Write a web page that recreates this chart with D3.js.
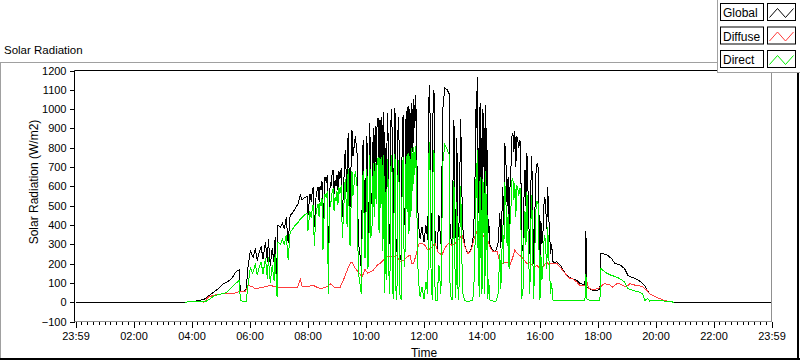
<!DOCTYPE html>
<html><head><meta charset="utf-8">
<script src="https://cdn.jsdelivr.net/npm/d3@7"></script>
<style>
html,body{margin:0;padding:0;background:#fff;}
svg{display:block;font-family:"Liberation Sans",Arial,sans-serif;}
</style></head><body>
<svg id="chart" width="800" height="361"></svg>
<script>
const chartTitle = "Solar Radiation";
const yAxisTitle = "Solar Radiation (W/m2)";
const xAxisTitle = "Time";
const seriesNames = ["Global", "Diffuse", "Direct"];
const seriesColors = ["#000000", "#ff3c3c", "#00ee00"];
const xTickMinutes = [-1,119,239,359,479,599,719,839,959,1079,1199,1319,1439];
const xTickLabels = ["23:59","02:00","04:00","06:00","08:00","10:00","12:00","14:00","16:00","18:00","20:00","22:00","23:59"];
const yTicks = [-100,0,100,200,300,400,500,600,700,800,900,1000,1100,1200];

// minutes after midnight; Global and Direct share these sample times
const globalTimes = [
-1,226,233,247,257,268,278,284,290,299,
305,311,317,323,330,334,338,340,346,352,
356,361,365,367,371,375,379,383,387,392,
396,398,402,406,410,412,416,418,423,427,
431,435,439,443,447,454,460,464,468,472,
478,480,484,487,489,491,493,495,497,501,
503,505,507,509,511,513,515,518,520,522,
524,526,528,530,532,534,536,538,540,542,
544,546,549,551,557,561,563,567,571,573,
578,582,584,588,590,594,598,602,604,606,
608,610,613,615,617,619,621,623,625,627,
629,631,633,635,637,639,641,642,644,646,
648,650,652,654,656,658,660,662,664,666,
668,670,673,675,677,679,681,683,685,687,
689,691,693,695,697,699,701,703,706,708,
712,716,720,724,728,730,732,734,737,739,
741,743,747,751,755,759,763,768,772,774,
778,782,784,786,788,790,792,796,799,801,
805,809,813,817,821,825,827,829,830,832,
833,834,836,837,838,840,841,842,844,845,
846,848,849,850,852,854,856,860,865,869,
873,877,879,883,885,887,889,892,894,896,
898,900,902,904,906,908,910,912,914,916,
918,920,922,925,927,929,931,933,935,937,
939,941,943,945,947,949,951,954,956,958,
960,962,964,966,968,970,972,974,976,978,
980,982,984,987,991,995,999,1003,1007,1013,
1022,1028,1036,1042,1049,1053,1055,1057,1063,1069,
1077,1084,1086,1094,1100,1108,1115,1125,1135,1142,
1152,1162,1172,1177,1183,1187,1197,1208,1218,1228,
1237,1439];
const globalValues = [
0,0,2,5,10,18,40,50,61,80,
96,102,112,125,155,163,168,55,53,65,
183,270,240,235,278,215,260,287,225,313,
210,325,190,280,200,339,100,400,390,410,
380,440,305,450,460,486,512,555,530,540,
547,450,560,520,581,598,390,470,560,598,
520,600,580,625,357,500,650,620,659,139,
480,620,600,670,685,560,633,600,660,580,
680,640,694,443,789,560,876,495,893,755,
859,760,321,235,183,841,408,859,321,450,
928,500,581,900,620,910,700,928,954,560,
945,700,960,480,985,290,800,350,980,850,
300,420,1000,900,240,700,1006,300,260,880,
960,250,215,900,970,400,500,988,700,1014,
600,1000,650,1032,780,1050,900,1075,650,420,
330,390,310,400,320,1050,1127,500,290,1100,
1080,300,280,450,300,1000,1111,1100,1080,350,
300,945,500,330,850,400,340,950,500,360,
290,260,255,275,310,500,1000,900,1164,600,
800,400,1030,600,850,400,700,1000,700,900,
380,1023,600,900,335,430,300,275,263,268,
300,460,280,598,400,825,780,500,650,370,
600,700,859,876,780,885,700,860,841,800,
835,832,253,300,550,685,500,773,600,400,
250,600,755,450,200,400,650,720,700,450,
190,420,300,350,500,547,480,380,598,450,
350,250,300,209,205,210,200,190,170,148,
127,120,113,99,92,87,370,80,70,61,
61,65,252,249,243,226,200,195,174,139,
127,117,99,85,56,44,30,18,9,3,
0,0];
const directValues = [
null,0,2,3,3,3,18,30,36,42,
44,50,64,79,96,105,113,9,5,5,
90,183,150,160,200,140,180,210,145,230,
120,235,100,190,110,250,25,310,300,325,
295,350,220,360,375,400,415,430,440,450,
460,370,470,435,490,505,290,385,470,510,
440,520,500,540,270,420,560,540,575,45,
390,520,520,575,590,470,545,525,575,505,
595,560,605,330,640,390,690,290,680,550,
680,590,160,90,45,680,230,690,170,290,
760,330,410,720,440,720,510,730,750,360,
745,490,750,265,760,50,570,115,740,610,
40,180,760,665,15,465,765,60,12,645,
735,40,10,690,750,180,270,755,465,775,
355,755,440,800,575,805,660,810,380,130,
25,80,15,105,45,760,830,210,10,790,
770,10,10,190,45,720,815,790,765,45,
10,630,190,20,520,80,12,600,150,30,
8,5,5,8,10,160,640,540,790,220,
420,25,650,230,480,45,345,640,360,565,
45,680,270,560,15,120,12,8,5,6,
35,250,70,400,200,620,570,290,455,170,
410,490,630,640,530,615,440,605,590,550,
590,590,15,70,340,470,295,570,395,195,
40,400,555,260,15,215,465,525,510,265,
12,245,115,165,310,350,275,170,390,250,
150,45,100,12,8,10,10,10,8,8,
8,8,8,9,9,10,145,18,9,9,
9,9,174,157,148,138,134,122,105,70,
61,55,44,9,18,6,7,7,6,3,
0,null];

const diffuseTimes = [
263,268,274,284,294,305,323,336,350,356,
365,371,381,392,402,412,423,443,458,464,
468,478,491,505,520,526,536,546,553,561,
567,571,578,584,592,598,604,615,623,629,
635,644,650,656,664,670,677,685,691,695,
699,706,710,716,722,728,734,743,749,757,
763,770,778,784,790,799,805,811,817,825,
832,836,840,844,850,854,856,863,871,877,
883,892,898,904,908,912,918,925,933,939,
943,947,954,960,966,974,978,982,987,995,
1001,1007,1015,1022,1028,1036,1042,1053,1057,1061,
1073,1084,1088,1094,1104,1110,1119,1125,1131,1139,
1146,1154,1160,1172,1181,1187,1197,1208,1218,1228,
1237];
const diffuseValues = [
0,9,27,35,40,44,44,53,53,87,
80,70,75,80,87,80,75,78,75,120,
80,80,87,70,80,96,75,75,113,165,
200,209,175,157,131,170,150,165,191,200,
215,235,240,232,243,209,215,235,243,200,
203,270,304,304,295,270,280,304,260,243,
280,304,295,304,321,347,287,252,265,339,
382,373,355,339,330,310,287,261,265,209,
200,209,191,235,270,255,243,226,200,205,
195,183,190,174,183,209,195,200,200,200,
183,165,139,122,120,105,87,87,105,70,
65,75,87,96,90,79,96,96,87,80,
96,90,86,82,61,44,30,18,9,3,
0];

const FONT = '"Liberation Sans", Arial, sans-serif';
const svg = d3.select("#chart");
const x = d3.scaleLinear()
  .domain([xTickMinutes[0], xTickMinutes[xTickMinutes.length - 1]])
  .range([75.5, 771.5]);
const y = d3.scaleLinear()
  .domain([yTicks[0], yTicks[yTicks.length - 1]])
  .range([321.5, 70.5]);

// outer frame
svg.append("line").attr("x1", 0).attr("x2", 717).attr("y1", 62.5).attr("y2", 62.5).attr("stroke", "#a0a0a0");
svg.append("line").attr("x1", 0.5).attr("x2", 0.5).attr("y1", 62).attr("y2", 360).attr("stroke", "#a0a0a0");
svg.append("line").attr("x1", 0).attr("x2", 800).attr("y1", 359).attr("y2", 359).attr("stroke", "#000").attr("stroke-width", 2);
svg.append("line").attr("x1", 798).attr("x2", 798).attr("y1", 72).attr("y2", 360).attr("stroke", "#000").attr("stroke-width", 2);

svg.append("text").attr("x", 4).attr("y", 54).attr("font-size", 11.5).attr("fill", "#000")
  .attr("font-family", FONT).text(chartTitle);

// axes
const gy = svg.append("g").attr("transform", "translate(74.5,0)")
  .call(d3.axisLeft(y).tickValues(yTicks).tickSize(5).tickPadding(3).tickFormat(d3.format("d")));
gy.select(".domain").remove();
gy.attr("font-family", FONT).attr("font-size", 11).attr("color", "#000");
gy.selectAll("line").attr("shape-rendering", "crispEdges");

const gx = svg.append("g").attr("transform", "translate(0,321.5)")
  .call(d3.axisBottom(x).tickValues(xTickMinutes).tickSize(6).tickPadding(5)
    .tickFormat((d, i) => xTickLabels[i]));
gx.select(".domain").remove();
gx.attr("font-family", FONT).attr("font-size", 11).attr("color", "#000");
gx.selectAll("line").attr("shape-rendering", "crispEdges");

const step = (xTickMinutes[1] - xTickMinutes[0]) / 10;
const minor = d3.range(xTickMinutes[0], xTickMinutes[xTickMinutes.length - 1], step)
  .filter((d, i) => i % 10 !== 0);
const gm = svg.append("g").attr("transform", "translate(0,321.5)")
  .call(d3.axisBottom(x).tickValues(minor).tickSize(3).tickFormat(""));
gm.select(".domain").remove();
gm.attr("color", "#000");
gm.selectAll("line").attr("shape-rendering", "crispEdges");

// axis titles
svg.append("text").attr("transform", "translate(38,182) rotate(-90)")
  .attr("text-anchor", "middle").attr("font-size", 12).attr("font-family", FONT)
  .attr("fill", "#000").text(yAxisTitle);
svg.append("text").attr("x", 424).attr("y", 357).attr("text-anchor", "middle")
  .attr("font-size", 12).attr("font-family", FONT).attr("fill", "#000").text(xAxisTitle);

// plot clip
svg.append("clipPath").attr("id", "plotclip").append("rect")
  .attr("x", 75).attr("y", 71).attr("width", 696).attr("height", 250);

const line = d3.line().defined(d => d.v != null).x(d => x(d.t)).y(d => y(d.v));
const gData = globalTimes.map((t, i) => ({t, v: globalValues[i]}));
const dData = diffuseTimes.map((t, i) => ({t, v: diffuseValues[i]}));
const rData = globalTimes.map((t, i) => ({t, v: directValues[i]}));
const plot = svg.append("g").attr("clip-path", "url(#plotclip)");
[gData, dData, rData].forEach((data, k) => {
  plot.append("path").datum(data).attr("d", line).attr("fill", "none")
    .attr("stroke", seriesColors[k]).attr("stroke-width", 1)
    .attr("shape-rendering", "crispEdges");
});

// plot border
svg.append("line").attr("x1", 74.5).attr("x2", 771.5).attr("y1", 70.5).attr("y2", 70.5).attr("stroke", "#000");
svg.append("line").attr("x1", 74.5).attr("x2", 74.5).attr("y1", 70.5).attr("y2", 322).attr("stroke", "#000");
svg.append("line").attr("x1", 771.5).attr("x2", 771.5).attr("y1", 70.5).attr("y2", 322).attr("stroke", "#909090");
svg.append("line").attr("x1", 74.5).attr("x2", 772).attr("y1", 321.5).attr("y2", 321.5).attr("stroke", "#909090");

// legend
const lg = svg.append("g");
lg.append("rect").attr("x", 717.5).attr("y", -1).attr("width", 84).attr("height", 73.5)
  .attr("fill", "#fff").attr("stroke", "#a0a0a0");
seriesNames.forEach((name, i) => {
  const y0 = 3.5 + i * 23.5;
  lg.append("rect").attr("x", 720.5).attr("y", y0).attr("width", 43).attr("height", 17)
    .attr("fill", "#fff").attr("stroke", "#000");
  lg.append("text").attr("x", 723).attr("y", y0 + 13.5).attr("font-size", 12)
    .attr("font-family", FONT).attr("fill", "#000").text(name);
  lg.append("rect").attr("x", 767.5).attr("y", y0).attr("width", 28).attr("height", 17)
    .attr("fill", "#fff").attr("stroke", "#000");
  lg.append("polyline")
    .attr("points", [[769.5, y0 + 14], [777.5, y0 + 5], [785.5, y0 + 14], [793.5, y0 + 5]].map(p => p.join(",")).join(" "))
    .attr("fill", "none").attr("stroke", seriesColors[i]).attr("stroke-width", 1);
});
</script>
</body></html>
